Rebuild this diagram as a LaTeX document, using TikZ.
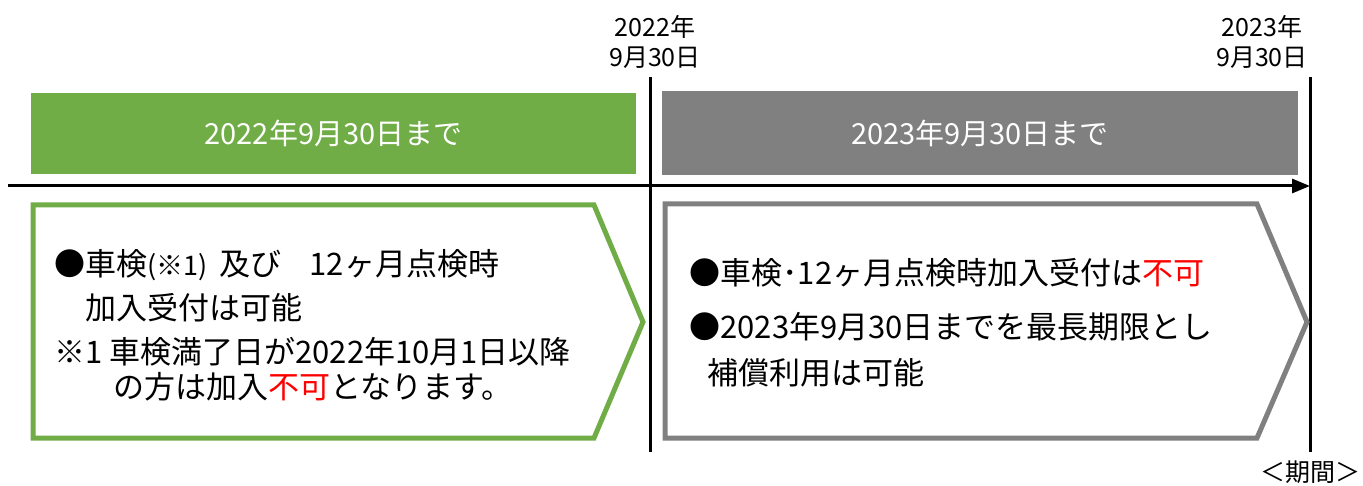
\documentclass[tikz,border=0pt]{standalone}
\usepackage{fontspec}
\setmainfont{Noto Sans CJK JP}
\usepackage{tikz}
\usetikzlibrary{arrows.meta, positioning}

\definecolor{kgreen}{HTML}{70AD47}
\definecolor{kgray}{HTML}{808080}
\definecolor{kred}{HTML}{FF0000}

\begin{document}
\begin{tikzpicture}[x=0.5pt, y=-0.5pt,
	datelabel/.style={align=center, font=\fontsize{12.5}{15}\selectfont},
	bandlabel/.style={text=white, font=\fontsize{14.5}{17}\selectfont},
	boxline/.style={anchor=west, inner sep=0pt, font=\fontsize{15.5}{18}\selectfont},
	timeline/.style={line width=1.5pt}]

	\useasboundingbox (0,0) rectangle (1363,486);

	% Dimensions
	\def\linetop{77}
	\def\linebottom{452}
	\def\axisy{186}

	% Date labels
	\node[datelabel] (dateA) at (655, 42) {2022年\\9月30日};
	\node[datelabel] (dateB) at (1262, 42) {2023年\\9月30日};

	% Periods
	\fill[kgreen] (31, 93) rectangle (636, 174);
	\node[bandlabel] (bandA) at (333.5, 133.5) {2022年9月30日まで};
	\fill[kgray] (662, 91) rectangle (1298, 175);
	\node[bandlabel] (bandB) at (980, 133) {2023年9月30日まで};

	% Time axis
	\coordinate (markA top) at (650, \linetop);
	\coordinate (markA bottom) at (650, \linebottom);
	\coordinate (markB top) at (1310, \linetop);
	\coordinate (markB bottom) at (1310, \linebottom);
	\coordinate (axis start) at (8, \axisy);
	\coordinate (axis end) at (1310, \axisy);
	\draw[timeline] (markA top) -- (markA bottom);
	\draw[timeline] (markB top) -- (markB bottom);
	\draw[timeline, -{Triangle[length=9pt, width=7pt]}] (axis start) -- (axis end);

	% Until 2022
	\draw[kgreen, line width=2.5pt, fill=white] (33, 205) -- (594, 205) -- (643, 322) -- (594, 438) -- (33, 438) -- cycle;
	\node[boxline] (leftA) at (54, 265) {●車検{\fontsize{13.5}{16}\selectfont(※1)}\hspace{6pt}及び\hspace{14pt}12ヶ月点検時};
	\node[boxline] (leftB) at (85, 308) {加入受付は可能};
	\node[boxline] (leftC) at (54, 352) {※1 車検満了日が2022年10月1日以降};
	\node[boxline] (leftD) at (113, 387) {の方は加入\textcolor{kred}{不可}となります。};

	% Until 2023
	\draw[kgray, line width=2.5pt, fill=white] (665, 204) -- (1257, 204) -- (1307, 322) -- (1257, 438) -- (665, 438) -- cycle;
	\node[boxline] (rightA) at (689, 273) {●車検･12ヶ月点検時加入受付は\textcolor{kred}{不可}};
	\node[boxline] (rightB) at (689, 327) {●2023年9月30日までを最長期限とし};
	\node[boxline] (rightC) at (707, 373) {補償利用は可能};

	% Legend
	\node[datelabel] (period) at (1310, 472) {＜期間＞};

\end{tikzpicture}
\end{document}
